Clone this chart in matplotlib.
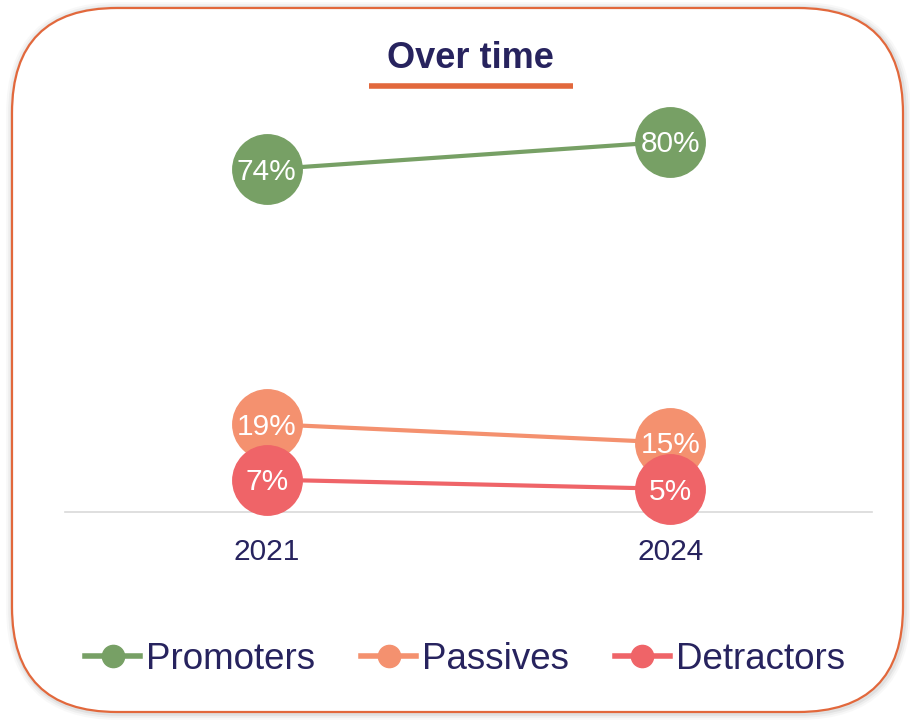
import matplotlib.pyplot as plt
from matplotlib.patches import FancyBboxPatch

plt.rcParams['font.family'] = ['Liberation Sans', 'DejaVu Sans']

# NPS split per survey year
years = ["2021", "2024"]
promoters = [0.74, 0.80]
passives = [0.19, 0.15]
detractors = [0.07, 0.05]

series = [
    ("Promoters", promoters, "#77a065"),
    ("Passives", passives, "#f4916f"),
    ("Detractors", detractors, "#ef6468"),
]
navy = "#27235e"
accent = "#e2683c"

fig = plt.figure(figsize=(9.1, 7.21), dpi=100)

# background card with rounded corners and a soft shadow
bg = fig.add_axes([0, 0, 1, 1])
bg.set_xlim(0, 910)
bg.set_ylim(721, 0)
bg.axis("off")
for lw, a in [(10, 0.05), (7, 0.08), (4, 0.12)]:
    bg.add_patch(FancyBboxPatch((13, 9), 891, 704,
                                boxstyle="round,pad=0,rounding_size=105",
                                fc="none", ec="#808080", lw=lw, alpha=a))
bg.add_patch(FancyBboxPatch((12, 8), 891, 704,
                            boxstyle="round,pad=0,rounding_size=105",
                            fc="white", ec=accent, lw=1.6))

# title with underline
bg.text(470, 59, "Over time", ha="center", va="center",
        fontsize=26, fontweight="bold", color=navy)
bg.plot([369, 573], [86, 86], color=accent, lw=4, solid_capstyle="butt")

ax = fig.add_axes([65 / 910, 0.2899, 807 / 910, 0.610])
ax.patch.set_alpha(0)
x = range(len(years))
for i, (name, vals, col) in enumerate(series):
    ax.plot(x, vals, color=col, lw=3, marker="o", markersize=50,
            label=name, zorder=2 + 2 * i, clip_on=False)
    for xi, v in zip(x, vals):
        ax.annotate(f"{v:.0%}", (xi, v), xytext=(0, -2),
                    textcoords="offset points", ha="center", va="center",
                    color="white", fontsize=21.5, zorder=3 + 2 * i)

ax.set_xlim(-0.5, 1.5)
ax.set_ylim(0, 0.95)
ax.set_xticks(list(x))
ax.set_xticklabels(years, fontsize=21.5, color=navy)
ax.set_yticks([])
ax.tick_params(axis="x", length=0, pad=19)
for s in ["top", "left", "right"]:
    ax.spines[s].set_visible(False)
ax.spines["bottom"].set_color("#d9d9d9")
ax.spines["bottom"].set_linewidth(1.2)
ax.spines["bottom"].set_zorder(1)

handles, labels = ax.get_legend_handles_labels()
leg = fig.legend(handles, labels, loc="center", bbox_to_anchor=(0.511, 0.085),
                 ncol=3, frameon=False, fontsize=26.5, handlelength=1.5,
                 handletextpad=0.15, columnspacing=1.25, markerscale=0.32)
for t in leg.get_texts():
    t.set_color(navy)
for h in leg.get_lines():
    h.set_linewidth(4)

fig.savefig("out.png", dpi=100)
